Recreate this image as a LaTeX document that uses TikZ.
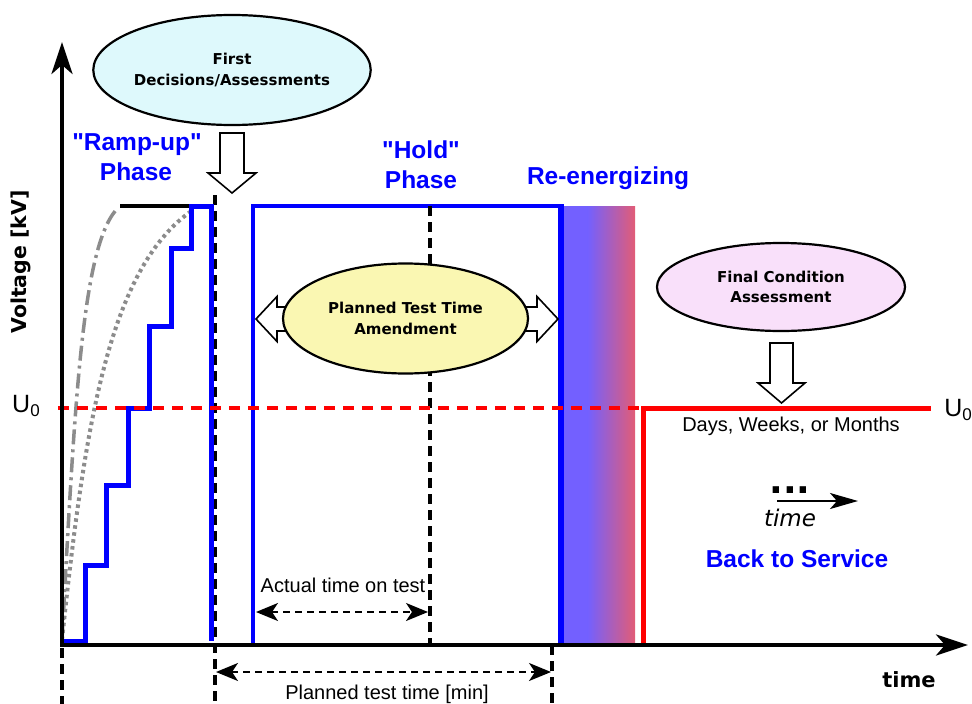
\documentclass[tikz,border=0pt]{standalone}
\usepackage{fontspec}
\setmainfont{Liberation Sans}[Ligatures=TeXOff]
\newfontfamily\dvfont{DejaVu Sans}
\usetikzlibrary{arrows.meta,shapes.geometric,calc}
\definecolor{hvblue}{RGB}{0,0,255}
\definecolor{revblue}{RGB}{115,96,255}
\definecolor{revred}{RGB}{226,92,118}
\definecolor{firstfill}{RGB}{222,249,252}
\definecolor{amendfill}{RGB}{250,247,178}
\definecolor{finalfill}{RGB}{249,224,250}
\definecolor{curvegray}{RGB}{140,140,140}
\begin{document}
\begin{tikzpicture}[x=1pt,y=-1pt,
  bluetxt/.style={text=hvblue,font=\fontsize{24.5}{29}\selectfont\bfseries,anchor=base,inner sep=0},
  plaintxt/.style={font=\fontsize{20}{24}\selectfont,anchor=base,inner sep=0},
  bubble/.style={ellipse,draw,line width=2.2pt,inner sep=0,align=center,
    font=\dvfont\bfseries\fontsize{15}{20.5}\selectfont},
  blockarrow/.style={draw,fill=white,line width=1.6pt,line join=miter},
  axisline/.style={line width=3.6pt,-{Stealth[length=32pt,width=21pt,inset=9pt]}},
  guide/.style={line width=3.3pt,dash pattern=on 10pt off 6pt},
  span/.style={line width=2.2pt,dash pattern=on 7pt off 5pt,
    {Stealth[length=22pt,width=18pt,inset=6pt]}-{Stealth[length=22pt,width=18pt,inset=6pt]}},
  bluestep/.style={hvblue,line width=5pt,line join=miter},
]
\useasboundingbox (0,0) rectangle (972,704);

% re-energizing band
\fill[revblue] (563,206) rectangle (588,643);
\shade[left color=revblue,right color=revred] (587.5,206) rectangle (635,643);

% hold phase window
\draw[hvblue,line width=4pt,line join=miter] (253,645) -- (253,206) -- (561,206);
\draw[hvblue,line width=5.5pt] (561,204) -- (561,645);

% time markers
\coordinate (m0top) at (62,648);   \coordinate (m0bot) at (62,704);
\coordinate (m1top) at (215,195);  \coordinate (m1bot) at (215,704);
\coordinate (m2top) at (430,206);  \coordinate (m2bot) at (430,645);
\coordinate (m3top) at (552,645);  \coordinate (m3bot) at (552,704);
\draw[guide] (m0top) -- (m0bot);
\draw[guide] (m1top) -- (m1bot);
\draw[guide] (m2top) -- (m2bot);
\draw[guide] (m3top) -- (m3bot);

% amendment double block arrow
\draw[blockarrow] (256,319) -- (277,296.5) -- (277,307) -- (537,307) -- (537,296.5)
  -- (558,319) -- (537,341.5) -- (537,331) -- (277,331) -- (277,341.5) -- cycle;

% decision bubbles
\node[bubble,fill=firstfill,minimum width=248pt,minimum height=110pt] (first) at (232,70)
  {First\\Decisions/Assessments};
\node[bubble,fill=amendfill,minimum width=245pt,minimum height=110pt] (amend) at (405.5,318.5)
  {Planned Test Time\\Amendment};
\node[bubble,fill=finalfill,minimum width=248pt,minimum height=88pt] (final) at (781,287)
  {Final Condition\\Assessment};

% block arrows below bubbles
\draw[blockarrow] (220,133) -- (244,133) -- (244,173) -- (256,173) -- (232,193)
  -- (208,173) -- (220,173) -- cycle;
\draw[blockarrow] (770,343) -- (793,343) -- (793,383) -- (805,383) -- (781.5,403)
  -- (758,383) -- (770,383) -- cycle;

% ramp-up alternatives
\draw[curvegray,line width=3.5pt,dash pattern=on 15pt off 5pt on 3pt off 5pt]
  (62,640) .. controls (75,400) and (82,250) .. (116,210);
\draw[curvegray,line width=4pt,dash pattern=on 3.5pt off 3.5pt]
  (62,640) .. controls (85,420) and (110,270) .. (190,212);
\draw[line width=3.5pt] (120,206) -- (192,206);

% stepwise ramp-up
\draw[bluestep] (62,641) -- (85,641) -- (85,565) -- (106,565) -- (106,485) -- (128,485)
  -- (128,408) -- (149,408) -- (149,326) -- (171,326) -- (171,248) -- (191,248)
  -- (191,206) -- (211,206) -- (211,641);

% return to service
\draw[red,line width=5pt,line join=miter] (643,645) -- (643,408) -- (931,408);
\draw[red,line width=3.5pt,dash pattern=on 11pt off 8pt] (58,408) -- (641,408);

% axes
\coordinate (origin) at (62,645);
\coordinate (ytip) at (62,42);
\coordinate (xtip) at (968,645);
\draw[axisline] (origin) -- (ytip);
\draw[axisline] ($(origin)+(-1.8,0)$) -- (xtip);

% durations
\coordinate (actL) at (256,612); \coordinate (actR) at (428,612);
\coordinate (plnL) at (216,672); \coordinate (plnR) at (551,672);
\draw[span] (actL) -- (actR);
\draw[span] (plnL) -- (plnR);

% time hint
\coordinate (hintL) at (777,501); \coordinate (hintR) at (858,501);
\draw[line width=2pt,-{Stealth[length=28pt,width=16pt,inset=7pt]}] (hintL) -- (hintR);
\node[anchor=base,inner sep=0,font=\dvfont\bfseries\fontsize{36}{36}\selectfont] (dots) at (790,493) {...};
\node[anchor=base,inner sep=0,font=\dvfont\itshape\fontsize{23}{26}\selectfont] (timeit) at (790,526) {time};

% labels
\node[bluetxt] (rampa) at (137,150) {"Ramp-up"};
\node[bluetxt] (rampb) at (136,180) {Phase};
\node[bluetxt] (holda) at (421,158) {"Hold"};
\node[bluetxt] (holdb) at (421,188) {Phase};
\node[bluetxt] (reen) at (608,184) {Re-energizing};
\node[bluetxt] (back) at (797,567) {Back to Service};

\node[plaintxt] (acttxt) at (343,592) {Actual time on test};
\node[plaintxt] (plntxt) at (387,699) {Planned test time [min]};
\node[plaintxt] (daystxt) at (791,431) {Days, Weeks, or Months};

\node[anchor=base,inner sep=0,font=\fontsize{25}{28}\selectfont] (u0l) at (26,412)
  {U\raisebox{-4pt}{\fontsize{17}{17}\selectfont 0}};
\node[anchor=base,inner sep=0,font=\fontsize{25}{28}\selectfont] (u0r) at (958,416)
  {U\raisebox{-4pt}{\fontsize{17}{17}\selectfont 0}};

\node[rotate=90,inner sep=0,font=\dvfont\bfseries\fontsize{20.5}{24}\selectfont] (ylab) at (21,262) {Voltage [kV]};
\node[anchor=base,inner sep=0,font=\dvfont\bfseries\fontsize{21}{24}\selectfont] (xlab) at (909,687) {time};
\end{tikzpicture}
\end{document}
